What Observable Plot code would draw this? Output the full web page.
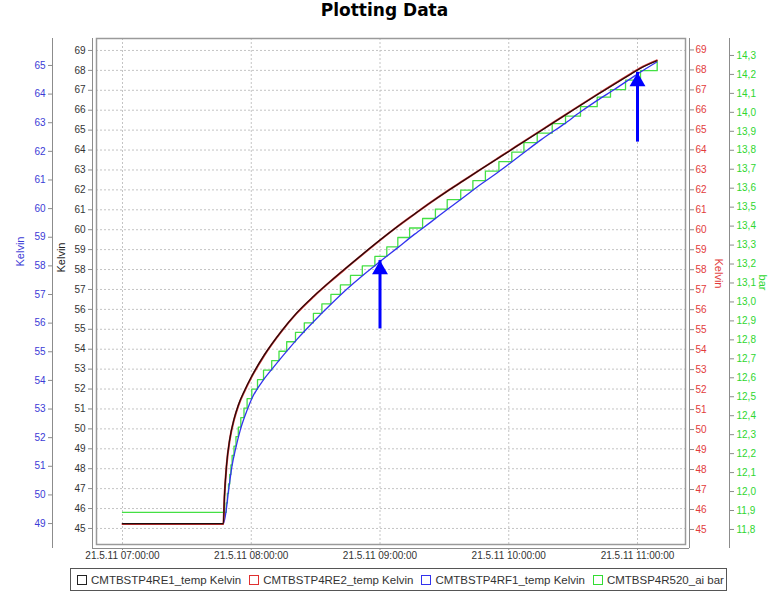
<!DOCTYPE html>
<html><head><meta charset="utf-8">
<script src="https://cdn.jsdelivr.net/npm/d3@7"></script>
<script src="https://cdn.jsdelivr.net/npm/@observablehq/plot@0.6"></script>
<style>
body{margin:0;background:#fff;font-family:"Liberation Sans",Arial,sans-serif;}
#wrap{position:relative;width:769px;height:592px;overflow:hidden;background:#fff;}
#title{position:absolute;left:0;top:0;width:769px;height:36px;line-height:36px;text-align:center;font:bold 17px "DejaVu Sans",sans-serif;color:#000;}
#chart{position:absolute;left:0;top:36px;}
#legend{position:absolute;left:70px;top:568px;width:655px;height:21px;border:1px solid #555;display:flex;align-items:center;font-size:11.5px;color:#333;white-space:nowrap;}
.item{display:flex;align-items:center;margin-left:6px;margin-right:2px;}
.sw{width:8px;height:8px;border:1.5px solid;margin-right:4px;box-sizing:content-box;}
</style></head>
<body>
<div id="wrap">
  <div id="title">Plotting Data</div>
  <div id="chart"></div>
  <div id="legend"></div>
</div>
<script>
// ---------- data ----------
const seriesNames = ["CMTBSTP4RE1_temp Kelvin", "CMTBSTP4RE2_temp Kelvin", "CMTBSTP4RF1_temp Kelvin", "CMTBSP4R520_ai bar"];
const seriesColors = ["#222222", "#e03030", "#3333ee", "#33dd33"];

// RE1 (black, left inner Kelvin axis)
const re1Times = ["07:00:00","07:47:00","07:47:30","07:48:30","07:50:00","07:52:00","07:54:00","07:57:00","08:00:00","08:06:00","08:14:00","08:21:00","08:29:00","08:37:00","08:45:00","08:52:00","09:00:00","09:08:00","09:16:00","09:23:30","09:31:00","09:39:00","09:47:00","09:54:30","10:00:00","10:07:00","10:15:00","10:26:00","10:41:00","10:57:00","11:01:00","11:09:00"];
const re1Values = [45.24,45.24,46.6,48.2,49.5,50.5,51.2,51.95,52.6,53.7,54.9,55.8,56.65,57.42,58.15,58.78,59.48,60.15,60.78,61.36,61.91,62.47,63.03,63.55,63.93,64.42,64.97,65.73,66.76,67.82,68.08,68.48];

// RE2 (red, right Kelvin axis) – drawn underneath RE1
const re2Times = re1Times;
const re2Values = [45.27,45.27,46.6,48.2,49.5,50.5,51.2,51.95,52.6,53.7,54.9,55.8,56.65,57.42,58.15,58.78,59.48,60.15,60.78,61.36,61.91,62.47,63.03,63.55,63.93,64.42,64.97,65.73,66.76,67.82,68.08,68.48];

// RF1 (blue, left outer Kelvin axis)
const rf1Times = ["07:00:00","07:47:00","07:48:00","07:49:30","07:51:00","07:52:40","07:55:00","07:58:00","08:00:30","08:06:00","08:10:30","08:15:00","08:21:30","08:29:00","08:37:00","08:44:45","08:52:30","09:00:00","09:08:00","09:16:00","09:23:30","09:31:20","09:39:00","09:47:00","09:54:40","10:00:00","10:07:00","10:15:00","10:25:40","10:33:30","10:41:15","10:49:00","10:57:00","11:00:00","11:09:00"];
const rf1Values = [49.0,49.0,49.3,50.2,51.0,51.6,52.3,52.95,53.4,54.05,54.47,54.88,55.45,56.05,56.65,57.2,57.7,58.15,58.62,59.1,59.52,59.97,60.4,60.85,61.25,61.55,61.95,62.4,62.95,63.38,63.78,64.15,64.55,64.7,65.12];

// R520 (green, bar axis, stepped samples)
const r520Times = ["07:00:00","07:48:20","07:48:53","07:49:24","07:49:58","07:50:31","07:51:05","07:51:58","07:52:53","07:53:58","07:55:08","07:56:37","07:58:04","08:00:15","08:02:55","08:05:43","08:09:32","08:12:56","08:16:31","08:20:37","08:24:43","08:28:58","08:32:55","08:37:07","08:41:33","08:46:15","08:51:45","08:57:37","09:03:10","09:08:18","09:13:48","09:19:51","09:25:49","09:31:19","09:37:37","09:43:17","09:49:07","09:55:25","10:01:25","10:07:04","10:13:16","10:20:15","10:26:27","10:33:26","10:41:13","10:47:25","10:54:25","11:01:24","11:09:10"];
const r520Values = [11.89,11.94,11.99,12.04,12.09,12.14,12.19,12.24,12.29,12.34,12.39,12.44,12.49,12.54,12.59,12.64,12.69,12.74,12.79,12.84,12.89,12.94,12.99,13.04,13.09,13.14,13.19,13.24,13.29,13.34,13.39,13.44,13.49,13.54,13.59,13.64,13.69,13.74,13.79,13.84,13.89,13.94,13.98,14.03,14.08,14.12,14.17,14.22,14.27];

// annotation arrows (in RE1 Kelvin units)
const arrowTimes = ["09:00:00", "11:00:00"];
const arrowTails = [55.42, 64.8];
const arrowTips = [58.45, 67.9];

// tick labels
const hourTicks = ["07:00:00","08:00:00","09:00:00","10:00:00","11:00:00"];
const kelvinTicks = d3.range(45, 70);          // black & red: 45..69
const blueTicks = d3.range(49, 66);            // 49..65
const barTicks = d3.range(118, 144).map(d => d / 10); // 11.8..14.3

// ---------- axis mappings onto the main (RE1) scale ----------
const blueToMain = v => 45.2465 + (v - 49) * 1.4375;
const redToMain = v => 44.95 + (v - 45) * 1.0031;
const barToMain = v => 44.9497 + (v - 11.8) * 9.5195;
const mainToBlue = m => (m - 45.2465) / 1.4375 + 49;
const mainToRed = m => (m - 44.95) / 1.0031 + 45;
const mainToBar = m => (m - 44.9497) / 9.5195 + 11.8;

const parse = d3.utcParse("%Y-%m-%d %H:%M:%S");
const T = s => parse("2011-05-21 " + s);
const xDomain = [T("06:47:53"), T("11:22:22")];
const yDomain = [44.195, 69.6];

const re1 = re1Times.map((t, i) => ({t: T(t), y: re1Values[i]}));
const re2 = re2Times.map((t, i) => ({t: T(t), y: redToMain(re2Values[i])}));
const rf1 = rf1Times.map((t, i) => ({t: T(t), y: blueToMain(rf1Values[i])}));
const r520 = r520Times.map((t, i) => ({t: T(t), y: barToMain(r520Values[i])}));
const arrows = arrowTimes.map((t, i) => ({t: T(t), y1: arrowTails[i], y2: arrowTips[i]}));
const hours = hourTicks.map(T);

const blueCol = "#3b3bd6", redCol = "#e23a3a", greenCol = "#2fd62f", axisGray = "#8c8c8c";
const fmtX = d3.utcFormat("21.5.11 %H:%M:%S");

const chart = Plot.plot({
  width: 769, height: 530,
  marginLeft: 96, marginRight: 84, marginTop: 2, marginBottom: 22,
  x: {type: "utc", domain: xDomain, axis: null},
  y: {domain: yDomain, axis: null},
  style: {fontFamily: "Liberation Sans, Arial, sans-serif", fontSize: "10px", background: "white", overflow: "visible"},
  marks: [
    Plot.gridY(kelvinTicks, {stroke: "#c4c4c4", strokeOpacity: 1, strokeDasharray: "2,2"}),
    Plot.gridX(hours, {stroke: "#c4c4c4", strokeOpacity: 1, strokeDasharray: "2,2"}),
    // axis lines
    Plot.ruleX([xDomain[0]], {dx: -4, stroke: axisGray, insetBottom: -4}),
    Plot.ruleX([xDomain[0]], {dx: -44, stroke: axisGray, insetBottom: -4}),
    Plot.ruleX([xDomain[1]], {dx: 4, stroke: axisGray, insetBottom: -4}),
    Plot.ruleX([xDomain[1]], {dx: 44, stroke: axisGray, insetBottom: -4}),
    Plot.ruleY([yDomain[0]], {dy: 4, stroke: axisGray, insetLeft: -4, insetRight: -4}),
    // axes
    Plot.axisY(kelvinTicks, {anchor: "left", dx: -4, tickSize: 4, tickPadding: 3, stroke: axisGray, fill: "#333", label: null}),
    Plot.axisY(blueTicks.map(blueToMain), {anchor: "left", dx: -44, tickSize: 4, tickPadding: 3, stroke: axisGray, fill: blueCol, label: null, tickFormat: d => String(Math.round(mainToBlue(d)))}),
    Plot.axisY(kelvinTicks.map(redToMain), {anchor: "right", dx: 4, tickSize: 4, tickPadding: 2, stroke: axisGray, fill: redCol, label: null, tickFormat: d => String(Math.round(mainToRed(d)))}),
    Plot.axisY(barTicks.map(barToMain), {anchor: "right", dx: 44, tickSize: 4, tickPadding: 3, stroke: axisGray, fill: greenCol, label: null, tickFormat: d => mainToBar(d).toFixed(1).replace(".", ",")}),
    Plot.axisX(hours, {anchor: "bottom", dy: 4, tickSize: 2, tickPadding: 1, stroke: axisGray, fill: "#333", label: null, tickFormat: fmtX}),
    // axis titles
    Plot.text(["Kelvin"], {frameAnchor: "left", rotate: -90, dx: -76, dy: -25, fill: blueCol, fontSize: 11}),
    Plot.text(["Kelvin"], {frameAnchor: "left", rotate: -90, dx: -35, dy: -19, fill: "#222", fontSize: 11}),
    Plot.text(["Kelvin"], {frameAnchor: "right", rotate: 90, dx: 33, dy: -3, fill: redCol, fontSize: 11}),
    Plot.text(["bar"], {frameAnchor: "right", rotate: 90, dx: 77, dy: -1, fill: greenCol, fontSize: 11}),
    Plot.frame({stroke: "#9a9a9a", strokeWidth: 1.5}),
    // series
    Plot.line(r520, {x: "t", y: "y", curve: "step-after", stroke: "#44e044", strokeWidth: 1.3}),
    Plot.line(rf1, {x: "t", y: "y", stroke: "#3333ee", strokeWidth: 1.3, curve: "monotone-x"}),
    Plot.line(re2, {x: "t", y: "y", stroke: "#d03030", strokeWidth: 2, curve: "monotone-x"}),
    Plot.line(re1, {x: "t", y: "y", stroke: "#1e0c0c", strokeWidth: 1.2, curve: "monotone-x"}),
    // arrows
    Plot.ruleX(arrows, {x: "t", y1: "y1", y2: "y2", stroke: "#0000ff", strokeWidth: 3, insetTop: 8}),
    Plot.dot(arrows, {x: "t", y: "y2", symbol: "triangle", r: 5.9, dy: 9.2, fill: "#0000ff", stroke: "none"})
  ]
});
document.getElementById("chart").appendChild(chart);

// legend
const legend = document.getElementById("legend");
seriesNames.forEach((name, i) => {
  const item = document.createElement("div");
  item.className = "item";
  item.style.marginRight = i < seriesNames.length - 1 ? "2px" : "0";
  const sw = document.createElement("span");
  sw.className = "sw";
  sw.style.borderColor = seriesColors[i];
  const tx = document.createElement("span");
  tx.textContent = name;
  item.appendChild(sw); item.appendChild(tx);
  legend.appendChild(item);
});
</script>
</body></html>
